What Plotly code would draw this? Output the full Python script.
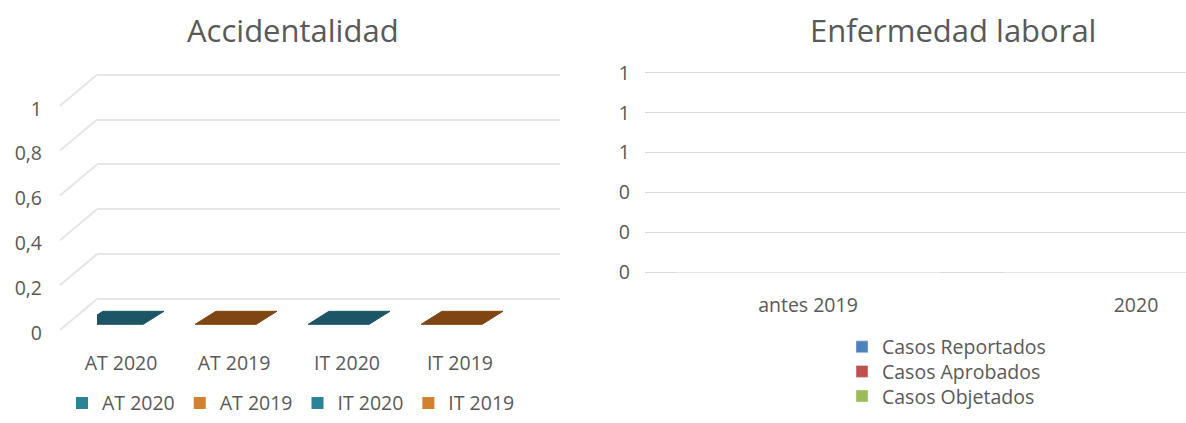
import plotly.graph_objects as go

# ---------------- data ----------------
acc_categories = ["AT 2020", "AT 2019", "IT 2020", "IT 2019"]
acc_series = ["AT 2020", "AT 2019", "IT 2020", "IT 2019"]
acc_values = [0, 0, 0, 0]          # one value per series, each in its own category
acc_ticks = [0, 0.2, 0.4, 0.6, 0.8, 1]

enf_categories = ["antes 2019", "2020"]
enf_series = ["Casos Reportados", "Casos Aprobados", "Casos Objetados"]
enf_reportados = [0, 0]
enf_aprobados = [0, 0]
enf_objetados = [0, 0]
enf_ticks = [0, 0.2, 0.4, 0.6, 0.8, 1]

# ---------------- style ----------------
W, H = 1186, 423
FONT = "Open Sans"
TXT = "#595959"
bar_face = ["#1c5566", "#7f4512", "#1c5566", "#7f4512"]
bar_legend = ["#2b8398", "#d2812e", "#2b8398", "#d2812e"]
enf_colors = ["#4f81bd", "#c0504d", "#9bbb59"]

def px_x(p):
    return p / W

def px_y(p):
    return 1 - p / H

fig = go.Figure()

# ---- left chart: flat (zero-height) 3D bars drawn as their top faces ----
half_w = 0.27       # half width of bar in category units
depth_x = 0.11      # perspective shift of the bar face (category units)
y_back, y_front = -0.055, -0.113   # depth offset of face edges (value units)
for i, (name, v) in enumerate(zip(acc_series, acc_values)):
    xs = [i - half_w + depth_x, i + half_w + depth_x, i + half_w - depth_x / 1.5,
          i - half_w - depth_x / 1.5, i - half_w + depth_x]
    ys = [v + y_back, v + y_back, v + y_front, v + y_front, v + y_back]
    fig.add_trace(go.Scatter(
        x=xs, y=ys, mode="lines", fill="toself",
        fillcolor=bar_face[i], line=dict(color=bar_face[i], width=1),
        name=name, showlegend=False, xaxis="x", yaxis="y",
        hoverinfo="skip",
    ))
    # legend entry for the series
    fig.add_trace(go.Scatter(
        x=[None], y=[None], mode="markers", name=name,
        marker=dict(symbol="square", size=12, color=bar_legend[i]),
        legend="legend", xaxis="x", yaxis="y",
    ))

# ---- right chart: clustered bars (all zero), one legend box per series ----
enf_legends = ["legend2", "legend3", "legend4"]
for name, vals, col, lg in zip(enf_series, [enf_reportados, enf_aprobados, enf_objetados],
                               enf_colors, enf_legends):
    fig.add_trace(go.Bar(
        x=enf_categories, y=vals, name=name, marker_color=col,
        legend=lg, xaxis="x2", yaxis="y2",
    ))

# left axes geometry (pixels)
L_left, L_right, L_top, L_bot = 97, 560, 70, 348
y0_px, y1_px = 304, 76
unit = y0_px - y1_px
cat0_px, cat_step = 121, 113
xr = [-(cat0_px - L_left) / cat_step, (L_right - cat0_px) / cat_step]
yr = [-(L_bot - y0_px) / unit, 1 + (y1_px - L_top) / unit]

# right axes geometry
R_left, R_right, R_top, R_bot = 645, 1186, 64, 288
r_y0, r_y1 = 277, 74
r_unit = r_y0 - r_y1
r_cat0, r_step = 808, 328
xr2 = [-(r_cat0 - R_left) / r_step, 1 + (R_right - r_cat0 - r_step) / r_step]
yr2 = [-(R_bot - r_y0) / r_unit, 1 + (r_y1 - R_top) / r_unit]

TICKF = dict(size=19.5, color=TXT, family=FONT)
LEGF = dict(size=19.5, color=TXT, family=FONT)

legend_common = dict(orientation="v", x=px_x(842), xanchor="left", yanchor="middle",
                     font=LEGF, itemwidth=30, bgcolor="rgba(0,0,0,0)")

fig.update_layout(
    width=W, height=H,
    margin=dict(l=0, r=0, t=0, b=0),
    paper_bgcolor="white", plot_bgcolor="white",
    separators=",.",
    font=dict(family=FONT, color=TXT, size=19),
    barmode="group",
    xaxis=dict(domain=[px_x(L_left), px_x(L_right)], range=xr,
               tickmode="array", tickvals=list(range(len(acc_categories))),
               ticktext=acc_categories, showgrid=False, zeroline=False,
               showline=False, ticks="", ticklabelstandoff=7, automargin=False,
               tickfont=TICKF, anchor="y", fixedrange=True),
    yaxis=dict(domain=[px_y(L_bot), px_y(L_top)], range=yr,
               tickmode="array", tickvals=acc_ticks,
               showgrid=True, gridcolor="#e6e6e6", gridwidth=2,
               zeroline=False, showline=False, ticks="", automargin=False,
               ticklabelshift=34, ticklabelstandoff=54,
               tickfont=TICKF, anchor="x", fixedrange=True),
    xaxis2=dict(domain=[px_x(R_left), px_x(R_right)], range=xr2,
                showgrid=False, zeroline=False, showline=False, ticks="",
                ticklabelstandoff=8, automargin=False,
                tickfont=TICKF, anchor="y2", fixedrange=True),
    yaxis2=dict(domain=[px_y(R_bot), px_y(R_top)], range=yr2,
                tickmode="array", tickvals=enf_ticks, tickformat=".0f",
                showgrid=True, gridcolor="#d9d9d9", gridwidth=1,
                zeroline=False, showline=False, ticks="", automargin=False,
                ticklabelstandoff=14,
                tickfont=TICKF, anchor="x2", fixedrange=True),
    legend=dict(orientation="h", x=px_x(291), xanchor="center",
                y=px_y(410), yanchor="middle", font=LEGF,
                itemwidth=30, bgcolor="rgba(0,0,0,0)"),
    legend2=dict(legend_common, y=px_y(353)),
    legend3=dict(legend_common, y=px_y(378)),
    legend4=dict(legend_common, y=px_y(403)),
    showlegend=True,
)

# perspective side-wall lines of the 3D floor/wall (decoration)
for t in acc_ticks:
    fig.add_shape(type="line", xref="x domain", yref="y",
                  xsizemode="pixel", xanchor=0, x0=-37, x1=0,
                  ysizemode="pixel", yanchor=t, y0=-31, y1=0,
                  line=dict(color="#e6e6e6", width=2), layer="below")

# titles
fig.add_annotation(text="Accidentalidad", x=px_x(293), y=px_y(30), xref="paper", yref="paper",
                   showarrow=False, font=dict(size=31, color=TXT, family=FONT),
                   xanchor="center", yanchor="middle")
fig.add_annotation(text="Enfermedad laboral", x=px_x(953), y=px_y(30), xref="paper", yref="paper",
                   showarrow=False, font=dict(size=31, color=TXT, family=FONT),
                   xanchor="center", yanchor="middle")

fig.write_html("out.html", config={"displayModeBar": False})
